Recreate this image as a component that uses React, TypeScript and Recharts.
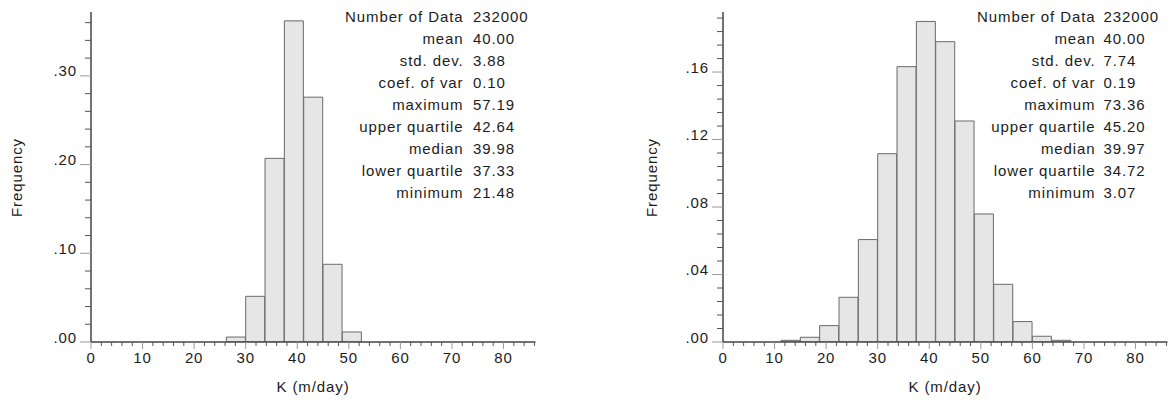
import React from 'react';
import { BarChart, Bar, XAxis, YAxis } from 'recharts';

// histogram bins (lower edge, width 3.75 m/day)
const binWidth = 3.75;
const leftBinStart = [26.25, 30, 33.75, 37.5, 41.25, 45, 48.75];
const leftFreq = [0.0056, 0.0515, 0.207, 0.362, 0.276, 0.0876, 0.0113];
const rightBinStart = [11.25, 15, 18.75, 22.5, 26.25, 30, 33.75, 37.5, 41.25, 45, 48.75, 52.5, 56.25, 60, 63.75];
const rightFreq = [0.001, 0.0028, 0.0097, 0.0265, 0.0607, 0.1116, 0.1632, 0.19, 0.178, 0.131, 0.0759, 0.0342, 0.0121, 0.0034, 0.001];

// axis ticks
const xTicks = [0, 2, 4, 6, 8, 10, 12, 14, 16, 18, 20, 22, 24, 26, 28, 30, 32, 34, 36, 38, 40, 42, 44, 46, 48, 50, 52, 54, 56, 58, 60, 62, 64, 66, 68, 70, 72, 74, 76, 78, 80, 82, 84, 86];
const xMajor = [0, 10, 20, 30, 40, 50, 60, 70, 80];
const leftYTicks = [0, 0.02, 0.04, 0.06, 0.08, 0.1, 0.12, 0.14, 0.16, 0.18, 0.2, 0.22, 0.24, 0.26, 0.28, 0.3, 0.32, 0.34, 0.36];
const leftYMajor = [0, 0.1, 0.2, 0.3];
const leftYLabels = ['.00', '.10', '.20', '.30'];
const rightYTicks = [0, 0.008, 0.016, 0.024, 0.032, 0.04, 0.048, 0.056, 0.064, 0.072, 0.08, 0.088, 0.096, 0.104, 0.112, 0.12, 0.128, 0.136, 0.144, 0.152, 0.16, 0.168, 0.176, 0.184, 0.192];
const rightYMajor = [0, 0.04, 0.08, 0.12, 0.16];
const rightYLabels = ['.00', '.04', '.08', '.12', '.16'];

// summary statistics
const statLabels = ['Number of Data', 'mean', 'std. dev.', 'coef. of var', 'maximum', 'upper quartile', 'median', 'lower quartile', 'minimum'];
const leftStats = ['232000', '40.00', '3.88', '0.10', '57.19', '42.64', '39.98', '37.33', '21.48'];
const rightStats = ['232000', '40.00', '7.74', '0.19', '73.36', '45.20', '39.97', '34.72', '3.07'];

const FONT = '"Liberation Sans", Arial, Helvetica, sans-serif';
const TEXT = '#1c1c1c';
const textStyle = { fontFamily: FONT, fontSize: 15, letterSpacing: 0.9, fill: TEXT };

const toBins = (starts: number[], freq: number[]) =>
  starts.map((s, i) => ({ center: s + binWidth / 2, freq: freq[i] }));

const XTick = (props: any) => {
  const { x, y, payload } = props;
  const major = xMajor.some((m) => Math.abs(m - payload.value) < 1e-6);
  return (
    <g>
      <line x1={x} x2={x} y1={y} y2={y + (major ? 7 : 4)} stroke={major ? '#9a9a9a' : '#555'} strokeWidth={1} />
      {major && (
        <text x={x} y={y + 21} textAnchor="middle" style={textStyle}>
          {payload.value}
        </text>
      )}
    </g>
  );
};

const makeYTick = (majors: number[], labels: string[]) => (props: any) => {
  const { x, y, payload } = props;
  const idx = majors.findIndex((m) => Math.abs(m - payload.value) < 1e-6);
  const major = idx >= 0;
  return (
    <g>
      <line x1={x - (major ? 11 : 6)} x2={x} y1={y} y2={y} stroke={major ? '#9a9a9a' : '#555'} strokeWidth={1} />
      {major && (
        <text x={x - 14} y={y + 0.5} textAnchor="end" style={textStyle}>
          {labels[idx]}
        </text>
      )}
    </g>
  );
};

interface HistProps {
  left: number;
  width: number;
  axisWidth: number;
  yMax: number;
  data: { center: number; freq: number }[];
  yTicks: number[];
  yMajor: number[];
  yLabels: string[];
}

const Histogram: React.FC<HistProps> = ({ left, width, axisWidth, yMax, data, yTicks, yMajor, yLabels }) => (
  <div style={{ position: 'absolute', left, top: 0 }}>
    <BarChart width={width} height={402} data={data} margin={{ top: 12, right: width - axisWidth - 444.5, bottom: 0, left: 0 }} barCategoryGap={0} barGap={0}>
      <XAxis
        dataKey="center"
        type="number"
        domain={[0, 86.2]}
        ticks={xTicks}
        interval={0}
        height={60}
        tickSize={0}
        tickMargin={0}
        tickLine={false}
        axisLine={{ stroke: '#444', strokeWidth: 1.5 }}
        tick={<XTick />}
        allowDataOverflow
      />
      <YAxis
        type="number"
        domain={[0, yMax]}
        ticks={yTicks}
        interval={0}
        width={axisWidth}
        tickSize={0}
        tickMargin={0}
        tickLine={false}
        axisLine={{ stroke: '#444', strokeWidth: 1.5 }}
        tick={makeYTick(yMajor, yLabels)}
        allowDataOverflow
      />
      <Bar dataKey="freq" fill="#e6e6e6" stroke="#6a6a6a" strokeWidth={1} isAnimationActive={false} />
    </BarChart>
  </div>
);

const Stats: React.FC<{ labelX: number; valueX: number; values: string[] }> = ({ labelX, valueX, values }) => (
  <g>
    {statLabels.map((l, i) => (
      <g key={l}>
        <text x={labelX} y={21.5 + i * 22.1} textAnchor="end" style={textStyle}>{l}</text>
        <text x={valueX} y={21.5 + i * 22.1} style={textStyle}>{values[i]}</text>
      </g>
    ))}
  </g>
);

export default function App() {
  return (
    <div style={{ position: 'absolute', left: 0, top: 0, width: 1173, height: 402, background: '#fff' }}>
      <Histogram left={0} width={580} axisWidth={91} yMax={0.372} data={toBins(leftBinStart, leftFreq)} yTicks={leftYTicks} yMajor={leftYMajor} yLabels={leftYLabels} />
      <Histogram left={600} width={573} axisWidth={123} yMax={0.1956} data={toBins(rightBinStart, rightFreq)} yTicks={rightYTicks} yMajor={rightYMajor} yLabels={rightYLabels} />
      <svg width={1173} height={402} style={{ position: 'absolute', left: 0, top: 0, pointerEvents: 'none' }}>
        <Stats labelX={463.5} valueX={473} values={leftStats} />
        <Stats labelX={1095.5} valueX={1103.5} values={rightStats} />
        <text transform="translate(22,177.5) rotate(-90)" textAnchor="middle" style={textStyle}>Frequency</text>
        <text transform="translate(657,177.5) rotate(-90)" textAnchor="middle" style={textStyle}>Frequency</text>
        <text x={313} y={392} textAnchor="middle" style={textStyle}>K (m/day)</text>
        <text x={945} y={392} textAnchor="middle" style={textStyle}>K (m/day)</text>
      </svg>
    </div>
  );
}
